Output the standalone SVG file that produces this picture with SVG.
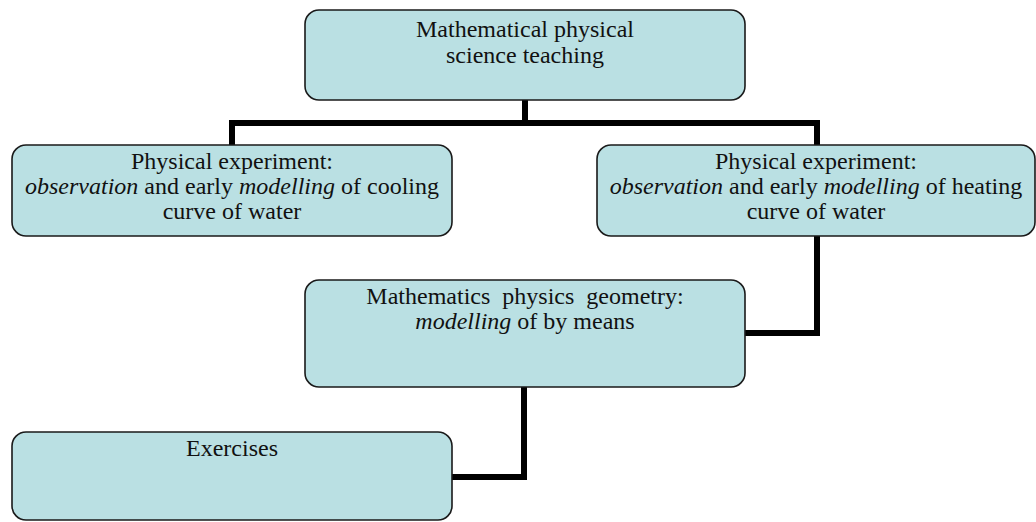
<svg xmlns="http://www.w3.org/2000/svg" width="1036" height="522" viewBox="0 0 1036 522">
<style>
.box{fill:#bae0e3;stroke:#1a1a1a;stroke-width:1.6}
.t{font-family:"Liberation Serif","Times New Roman",serif;font-size:24px;fill:#111;text-anchor:middle;white-space:pre}
.i{font-style:italic}
.c{fill:none;stroke:#000;stroke-width:6;stroke-linejoin:miter}
</style>
<rect width="1036" height="522" fill="#fff"/>
<g id="connectors">
<polyline class="c" points="525,100 525,123"/>
<polyline class="c" points="232,145 232,123 817,123 817,145"/>
<polyline class="c" points="817,236 817,333 745,333"/>
<polyline class="c" points="524,387 524,477 452,477"/>
</g>
<g id="top">
<rect class="box" x="305" y="10" width="440" height="90" rx="14"/>
<text class="t" x="525" y="37">Mathematical physical</text>
<text class="t" x="525" y="63">science teaching</text>
</g>
<g id="left">
<rect class="box" x="12" y="145" width="440" height="91" rx="14"/>
<text class="t" x="232" y="169">Physical experiment:</text>
<text class="t" x="232" y="194"><tspan class="i">observation</tspan> and early <tspan class="i">modelling</tspan> of cooling</text>
<text class="t" x="232" y="219">curve of water</text>
</g>
<g id="right">
<rect class="box" x="597" y="145" width="438" height="91" rx="14"/>
<text class="t" x="816" y="169">Physical experiment:</text>
<text class="t" x="816" y="194"><tspan class="i">observation</tspan> and early <tspan class="i">modelling</tspan> of heating</text>
<text class="t" x="816" y="219">curve of water</text>
</g>
<g id="middle">
<rect class="box" x="305" y="280" width="440" height="107" rx="14"/>
<text class="t" x="525" y="304">Mathematics  physics  geometry:</text>
<text class="t" x="525" y="329"><tspan class="i">modelling</tspan> of by means</text>
</g>
<g id="exercises">
<rect class="box" x="12" y="432" width="440" height="88" rx="14"/>
<text class="t" x="232" y="456">Exercises</text>
</g>
</svg>
